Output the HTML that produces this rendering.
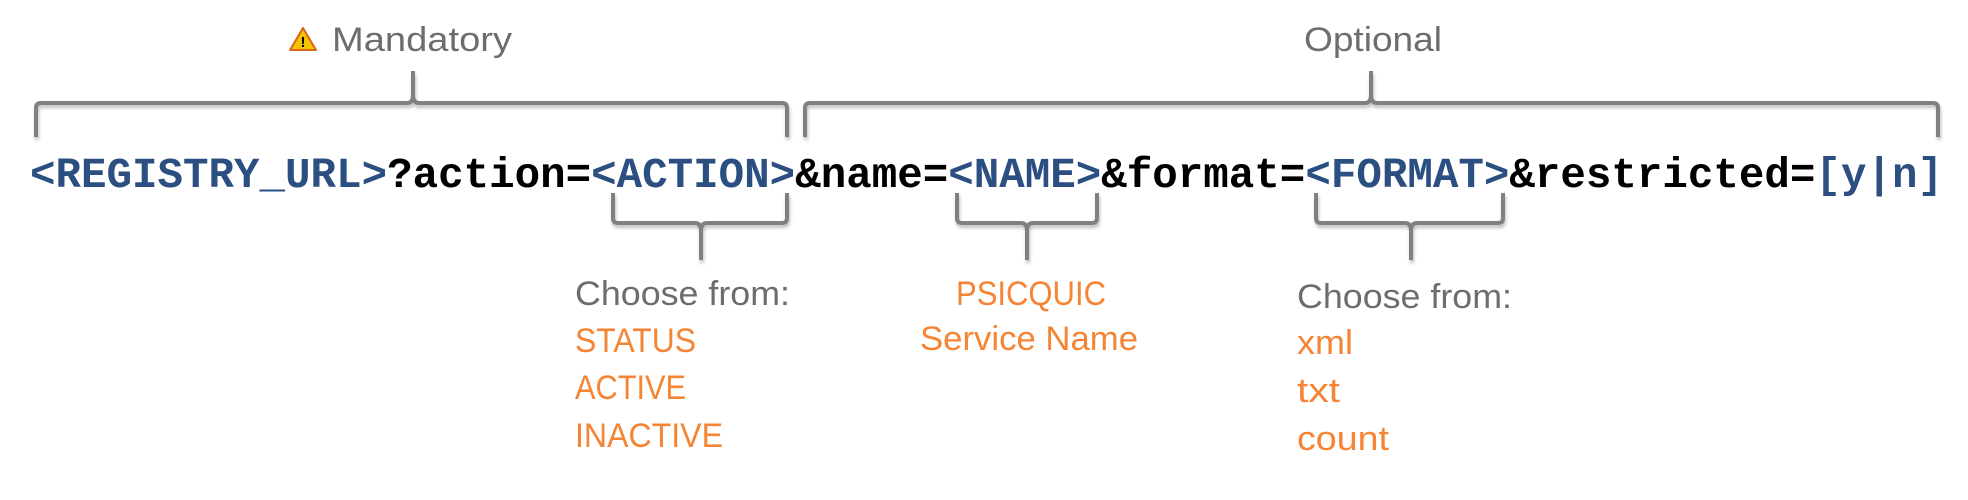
<!DOCTYPE html>
<html><head><meta charset="utf-8"><style>
html,body{margin:0;padding:0;background:#fff;width:1968px;height:500px;overflow:hidden}
</style></head><body>
<svg width="1968" height="500" xmlns="http://www.w3.org/2000/svg">
<defs><filter id="sh" x="-5%" y="-20%" width="110%" height="140%"><feDropShadow dx="1" dy="3" stdDeviation="1.5" flood-color="#000" flood-opacity="0.25"/></filter></defs>
<g fill="none" stroke="#808080" stroke-width="4" filter="url(#sh)" stroke-linejoin="round">
<path d="M36 137 V108 Q36 103 41 103 H407 Q413 103 413 95 V71 M413 95 Q413 103 419 103 H782 Q787 103 787 108 V137"/>
<path d="M805 137 V108 Q805 103 810 103 H1365 Q1371 103 1371 95 V71 M1371 95 Q1371 103 1377 103 H1933 Q1938 103 1938 108 V137"/>
<path d="M613 193 V218 Q613 223 618 223 H695 Q701 223 701 231 V260 M701 231 Q701 223 707 223 H782 Q787 223 787 218 V193"/>
<path d="M957 193 V218 Q957 223 962 223 H1021 Q1027 223 1027 231 V260 M1027 231 Q1027 223 1033 223 H1092 Q1097 223 1097 218 V193"/>
<path d="M1316 193 V218 Q1316 223 1321 223 H1405 Q1411 223 1411 231 V260 M1411 231 Q1411 223 1417 223 H1498 Q1503 223 1503 218 V193"/>
</g>
<g font-family="'Liberation Mono',monospace" font-weight="bold" font-size="42.5">
<text x="30" y="187" textLength="1913" lengthAdjust="spacingAndGlyphs"><tspan fill="#2b4f81">&lt;REGISTRY_URL&gt;</tspan><tspan fill="#000">?action=</tspan><tspan fill="#2b4f81">&lt;ACTION&gt;</tspan><tspan fill="#000">&amp;name=</tspan><tspan fill="#2b4f81">&lt;NAME&gt;</tspan><tspan fill="#000">&amp;format=</tspan><tspan fill="#2b4f81">&lt;FORMAT&gt;</tspan><tspan fill="#000">&amp;restricted=</tspan><tspan fill="#2b4f81">[y|n]</tspan></text>
</g>
<g font-family="'Liberation Sans',sans-serif" font-size="34" lengthAdjust="spacingAndGlyphs">
<polygon points="303,28 290,50 316,50" fill="#f5c400" stroke="#d9641b" stroke-width="2" stroke-linejoin="round"/>
<text x="303" y="47" font-size="15" font-weight="bold" text-anchor="middle" fill="#000">!</text>
<text x="332" y="51" fill="#6d6d6d" textLength="180" lengthAdjust="spacingAndGlyphs">Mandatory</text>
<text x="1304" y="51" fill="#6d6d6d" textLength="138" lengthAdjust="spacingAndGlyphs">Optional</text>
<text x="575" y="305" fill="#6d6d6d" textLength="215" lengthAdjust="spacingAndGlyphs">Choose from:</text>
<text x="575" y="352" fill="#f58434" textLength="121" lengthAdjust="spacingAndGlyphs">STATUS</text>
<text x="575" y="399" fill="#f58434" textLength="111" lengthAdjust="spacingAndGlyphs">ACTIVE</text>
<text x="575" y="447" fill="#f58434" textLength="148" lengthAdjust="spacingAndGlyphs">INACTIVE</text>
<text x="956" y="305" fill="#f58434" textLength="150" lengthAdjust="spacingAndGlyphs">PSICQUIC</text>
<text x="920" y="350" fill="#f58434" textLength="218" lengthAdjust="spacingAndGlyphs">Service Name</text>
<text x="1297" y="308" fill="#6d6d6d" textLength="215" lengthAdjust="spacingAndGlyphs">Choose from:</text>
<text x="1297" y="354" fill="#f58434" textLength="56" lengthAdjust="spacingAndGlyphs">xml</text>
<text x="1297" y="402" fill="#f58434" textLength="43" lengthAdjust="spacingAndGlyphs">txt</text>
<text x="1297" y="450" fill="#f58434" textLength="92" lengthAdjust="spacingAndGlyphs">count</text>
</g>
</svg>
</body></html>
